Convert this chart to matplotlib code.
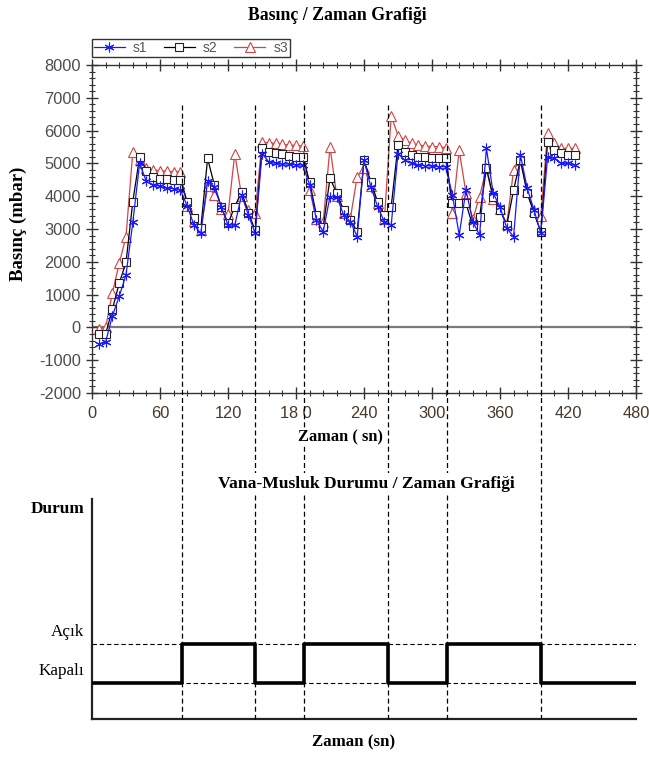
import matplotlib
matplotlib.use("Agg")
import matplotlib.pyplot as plt
import matplotlib.transforms as mtransforms
from matplotlib.lines import Line2D
from matplotlib.ticker import MultipleLocator

plt.rcParams["axes.unicode_minus"] = False

# ---- data ----
time_s = list(range(6, 427, 6))

s1 = [-500, -450, 350, 950, 1600, 3200, 5000, 4450, 4350, 4300, 4250, 4230, 4200,
      3700, 3120, 2870, 4450, 4290, 3680, 3120, 3120, 4040, 3430, 2870,
      5300, 5050, 5000, 4980, 4980, 4950, 4950,
      4350, 3270, 2920, 3990, 3990, 3430, 3220, 2770, 5100, 4290, 3680, 3220, 3120,
      5300, 5100, 5000, 4950, 4930, 4920, 4900, 4900,
      4040, 2820, 4190, 3220, 2820, 5460, 4090, 3680, 3020, 2770, 5260, 4240, 3580, 2870,
      5200, 5150, 5000, 5000, 4950]

s2 = [-200, -200, 550, 1350, 1980, 3830, 5200, 4780, 4580, 4520, 4510, 4500, 4500,
      3830, 3330, 3020, 5150, 4340, 3680, 3170, 3680, 4140, 3480, 2970,
      5460, 5360, 5310, 5280, 5240, 5200, 5200,
      4440, 3430, 3070, 4550, 4090, 3580, 3280, 2920, 5100, 4440, 3830, 3430, 3680,
      5560, 5360, 5260, 5200, 5180, 5170, 5150, 5150,
      3780, 3780, 3780, 3090, 3380, 4850, 3990, 3580, 3120, 4190, 5100, 4090, 3480, 2920,
      5660, 5410, 5310, 5260, 5260]

s3 = [-50, 0, 1050, 1950, 2770, 5350, 5100, 4850, 4800, 4780, 4760, 4750, 4740,
      3700, 3250, 2970, 4300, 4040, 3600, 3450, 5300, 4000, 3580, 3500,
      5650, 5630, 5610, 5580, 5560, 5550, 5530,
      4190, 3300, 3200, 5500, 4000, 3500, 3330, 4600, 4850, 4300, 3800, 3300, 6450,
      5850, 5710, 5610, 5560, 5530, 5510, 5510, 5480,
      3480, 5400, 4090, 3300, 3990, 4850, 3900, 3600, 3150, 4800, 5100, 4150, 3550, 3400,
      5920, 5610, 5460, 5460, 5460]

# valve switching instants (s) and state after each instant (0 = Kapalı, 1 = Açık)
switch_times = [79, 144, 187, 261, 313, 396]
valve_state = [0, 1, 0, 1, 0, 1, 0]

x_ticks = [0, 60, 120, 180, 240, 300, 360, 420, 480]
x_tick_labels = ["0", "60", "120", "18 0", "240", "300", "360", "420", "480"]

# ---- figure ----
W, H = 649, 758
fig = plt.figure(figsize=(W / 100, H / 100), dpi=100)


def fx(px):
    return px / W


def fy(py):
    return 1 - py / H


serif = "Liberation Serif"
sans = "Liberation Sans"

# top panel: pressure
ax1 = fig.add_axes([fx(92), fy(393), fx(636) - fx(92), fy(65) - fy(393)])
ax1.set_xlim(0, 480)
ax1.set_ylim(-2000, 8000)

ax1.axhline(0, color="#7a7a7a", lw=1.6, zorder=1)

ax1.plot(time_s, s1, color="#1a1aff", lw=0.9, marker=(6, 2, 0), ms=7, mew=0.8,
         mec="#1a1aff", label="s1", zorder=4)
ax1.plot(time_s, s2, color="black", lw=0.9, marker="s", ms=6, mew=0.8,
         mfc="white", mec="#222222", label="s2", zorder=3)
ax1.plot(time_s, s3, color="#d04545", lw=0.9, marker="^", ms=6.5, mew=0.8,
         mfc="white", mec="#d04545", label="s3", zorder=2)

ax1.set_xticks(x_ticks)
ax1.set_xticklabels(x_tick_labels)
ax1.xaxis.set_minor_locator(MultipleLocator(12))
ax1.yaxis.set_major_locator(MultipleLocator(1000))
ax1.yaxis.set_minor_locator(MultipleLocator(200))
ax1.tick_params(axis="both", which="major", direction="inout", length=8, width=1,
                color="#333333", top=True, right=True)
ax1.tick_params(axis="both", which="minor", direction="inout", length=5, width=0.8,
                color="#333333", top=True, right=True)
ax1.tick_params(axis="y", labelsize=11.8, labelcolor="#4d4d4d", pad=4)
ax1.tick_params(axis="x", labelsize=11.8, labelcolor="#4a3826", pad=5)
for lab in ax1.get_xticklabels() + ax1.get_yticklabels():
    lab.set_family(sans)
for sp in ax1.spines.values():
    sp.set_color("#333333")
    sp.set_linewidth(1)

leg = ax1.legend(ncol=3, loc="lower left", bbox_to_anchor=(0.0, 1.025),
                 frameon=True, fancybox=False, edgecolor="black",
                 prop={"family": sans, "size": 10}, handlelength=2.2,
                 columnspacing=1.2, handletextpad=0.6, borderpad=0.15,
                 borderaxespad=0.0)
leg.get_frame().set_linewidth(1)
for t in leg.get_texts():
    t.set_color("#555555")

fig.text(fx(337), fy(15), "Basınç / Zaman Grafiği", family=serif, weight="bold",
         size=12.8, ha="center", va="center")
fig.text(fx(18), fy(224), "Basınç (mbar)", family=serif, weight="bold", size=13.5,
         rotation=90, ha="center", va="center")
fig.text(fx(340), fy(437), "Zaman ( sn)", family=serif, weight="bold", size=11.8,
         ha="center", va="center", zorder=5,
         bbox=dict(facecolor="white", edgecolor="none", pad=1))

# bottom panel: valve state
ax2 = fig.add_axes([fx(92), fy(719), fx(636) - fx(92), fy(499) - fy(719)])
ax2.set_xlim(0, 480)
ax2.set_ylim(-0.92, 4.72)
ax2.spines["top"].set_visible(False)
ax2.spines["right"].set_visible(False)
for sp in ("left", "bottom"):
    ax2.spines[sp].set_linewidth(1.6)
    ax2.spines[sp].set_color("#222222")
ax2.set_xticks([])
ax2.set_yticks([])

for level in (0, 1):
    ax2.axhline(level, color="black", lw=0.8, ls=(0, (4, 2.5)), zorder=1)

step_x = [0] + switch_times + [480]
step_y = valve_state + [valve_state[-1]]
ax2.step(step_x, step_y, where="post", color="black", lw=2.6, zorder=3)

lbl_tr = mtransforms.blended_transform_factory(ax2.transAxes, ax2.transData)
ax2.text(-0.015, 1.3, "Açık", transform=lbl_tr, family=serif, size=12.3,
         ha="right", va="center")
ax2.text(-0.015, 0.3, "Kapalı", transform=lbl_tr, family=serif, size=12.3,
         ha="right", va="center")
fig.text(fx(84), fy(509), "Durum", family=serif, weight="bold", size=12.4,
         ha="right", va="center")
fig.text(fx(366), fy(484), "Vana-Musluk Durumu / Zaman Grafiği", family=serif,
         weight="bold", size=12.6, ha="center", va="center", zorder=5,
         bbox=dict(facecolor="white", edgecolor="none", pad=2))
fig.text(fx(354), fy(742), "Zaman (sn)", family=serif, weight="bold", size=12.2,
         ha="center", va="center")

# switching instants drawn through both panels
vtr = mtransforms.blended_transform_factory(ax1.transData, fig.transFigure)
for ts in switch_times:
    fig.add_artist(Line2D([ts, ts], [fy(105), fy(719)], transform=vtr, color="black",
                          lw=0.9, ls=(0, (4, 2.5)), zorder=2))

fig.savefig("out.png", dpi=100, facecolor="white")
